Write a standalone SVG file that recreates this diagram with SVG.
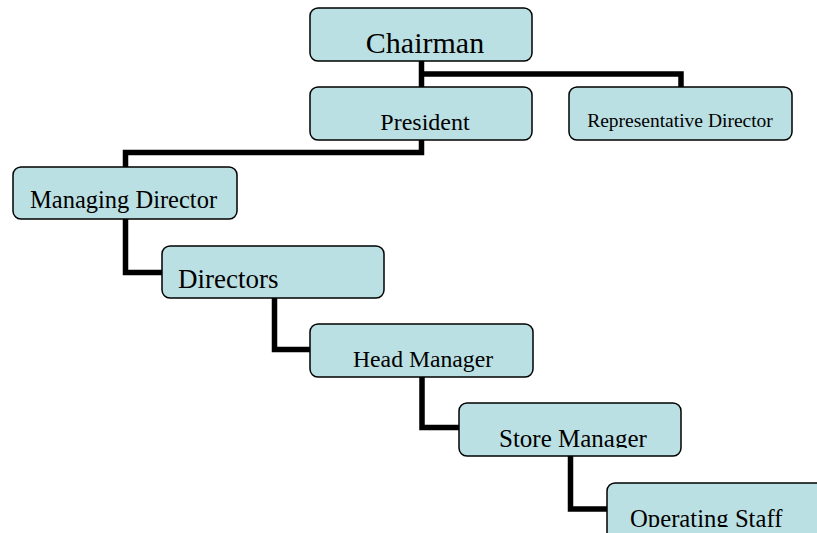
<svg xmlns="http://www.w3.org/2000/svg" width="817" height="533" viewBox="0 0 817 533">
<style>
.box{fill:#bbe0e3;stroke:#000;stroke-width:1.5}
.t{font-family:"Liberation Serif","Times New Roman",serif;fill:#000}
.c{fill:none;stroke:#000;stroke-width:5.5;stroke-linejoin:miter}
</style>
<defs>
<clipPath id="clipStore"><rect x="459" y="403" width="222" height="45"/></clipPath>
<clipPath id="clipOp"><rect x="607" y="483" width="222" height="44"/></clipPath>
</defs>
<rect width="817" height="533" fill="#fff"/>
<g id="connectors">
<path class="c" d="M421.5,61 V88"/>
<path class="c" d="M421.5,74 H681 V87"/>
<path class="c" d="M421.5,140 V152.5 H125.5 V167"/>
<path class="c" d="M125.5,219 V272.5 H162"/>
<path class="c" d="M274.5,298 V349.5 H310"/>
<path class="c" d="M422,377 V427.5 H459"/>
<path class="c" d="M570.5,456 V509 H607"/>
</g>
<g id="chairman">
<rect class="box" x="310" y="8" width="222" height="53" rx="8"/>
<text class="t" x="425" y="53" font-size="30" text-anchor="middle">Chairman</text>
</g>
<g id="president">
<rect class="box" x="310" y="87" width="222" height="53" rx="8"/>
<text class="t" x="425" y="130" font-size="24" text-anchor="middle">President</text>
</g>
<g id="representative-director">
<rect class="box" x="569" y="87" width="223" height="53" rx="8"/>
<text class="t" x="680" y="127" font-size="19.5" text-anchor="middle">Representative Director</text>
</g>
<g id="managing-director">
<rect class="box" x="13" y="167" width="224" height="52" rx="8"/>
<text class="t" x="30" y="208" font-size="24.5">Managing Director</text>
</g>
<g id="directors">
<rect class="box" x="162" y="246" width="222" height="52" rx="8"/>
<text class="t" x="178" y="288" font-size="27">Directors</text>
</g>
<g id="head-manager">
<rect class="box" x="310" y="324" width="223" height="53" rx="8"/>
<text class="t" x="353" y="367" font-size="23.7">Head Manager</text>
</g>
<g id="store-manager">
<rect class="box" x="459" y="403" width="222" height="53" rx="8"/>
<text class="t" x="499" y="447" font-size="25" clip-path="url(#clipStore)">Store Manager</text>
</g>
<g id="operating-staff">
<rect class="box" x="607" y="483" width="222" height="60" rx="8"/>
<text class="t" x="630" y="527" font-size="24.7" clip-path="url(#clipOp)">Operating Staff</text>
</g>
</svg>
